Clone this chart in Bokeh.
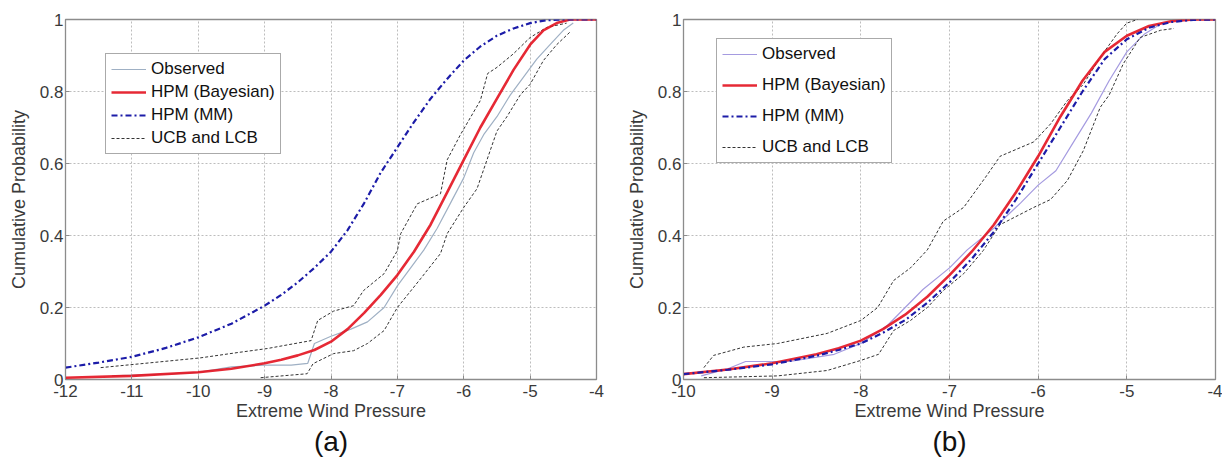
from bokeh.plotting import figure
from bokeh.layouts import row
from bokeh.models import Legend, LegendItem, Title, FixedTicker, Range1d
from bokeh.embed import file_html
from bokeh.resources import INLINE

# ---------------- Panel (a) data ----------------
a_obs_x = [-11.3, -10.5, -10.0, -9.5, -9.0, -8.6, -8.35, -8.25, -8.0, -7.7, -7.45, -7.2, -7.0, -6.8, -6.6, -6.4, -6.2, -6.0, -5.85, -5.7, -5.5, -5.3, -5.1, -4.9, -4.7, -4.5, -4.35]
a_obs_y = [0.01, 0.015, 0.02, 0.035, 0.04, 0.04, 0.045, 0.10, 0.12, 0.14, 0.16, 0.20, 0.26, 0.31, 0.36, 0.42, 0.49, 0.56, 0.63, 0.68, 0.73, 0.79, 0.84, 0.89, 0.93, 0.97, 0.99]

a_bay_x = [-12, -11, -10, -9.5, -9, -8.75, -8.5, -8.25, -8, -7.75, -7.5, -7.25, -7, -6.75, -6.5, -6.25, -6, -5.75, -5.5, -5.25, -5, -4.8, -4.6, -4.4, -4]
a_bay_y = [0.005, 0.01, 0.02, 0.03, 0.045, 0.055, 0.067, 0.082, 0.105, 0.14, 0.185, 0.235, 0.29, 0.355, 0.43, 0.52, 0.61, 0.70, 0.78, 0.86, 0.93, 0.97, 0.99, 1.0, 1.0]

a_mm_x = [-12, -11.5, -11, -10.5, -10, -9.5, -9, -8.75, -8.5, -8.25, -8, -7.75, -7.5, -7.25, -7, -6.75, -6.5, -6.25, -6, -5.75, -5.5, -5.25, -5, -4.75, -4.5, -4]
a_mm_y = [0.033, 0.047, 0.063, 0.087, 0.117, 0.155, 0.205, 0.235, 0.27, 0.31, 0.355, 0.415, 0.49, 0.575, 0.645, 0.715, 0.78, 0.835, 0.886, 0.925, 0.955, 0.975, 0.99, 0.998, 1.0, 1.0]

a_ucb_x = [-11.47, -10.8, -9.97, -9.4, -8.96, -8.3, -8.2, -7.96, -7.66, -7.51, -7.2, -7.0, -6.95, -6.7, -6.35, -6.25, -6.05, -5.75, -5.64, -5.5, -5.25, -5.0, -4.75, -4.45]
a_ucb_y = [0.033, 0.045, 0.06, 0.075, 0.086, 0.108, 0.164, 0.19, 0.205, 0.247, 0.294, 0.358, 0.405, 0.488, 0.516, 0.61, 0.68, 0.775, 0.85, 0.867, 0.905, 0.95, 0.978, 0.99]

a_lcb_x = [-9.06, -8.36, -8.27, -7.96, -7.66, -7.45, -7.2, -7.0, -6.65, -6.35, -6.25, -6.0, -5.8, -5.65, -5.5, -5.35, -5.15, -5.0, -4.8, -4.6, -4.4]
a_lcb_y = [0.005, 0.016, 0.044, 0.072, 0.08, 0.10, 0.136, 0.20, 0.28, 0.35, 0.405, 0.478, 0.53, 0.61, 0.69, 0.73, 0.79, 0.82, 0.886, 0.93, 0.965]

# ---------------- Panel (b) data ----------------
b_obs_x = [-9.8, -9.5, -9.3, -8.8, -8.3, -8.0, -7.7, -7.5, -7.3, -7.0, -6.8, -6.5, -6.2, -6.0, -5.8, -5.6, -5.4, -5.2, -5.0, -4.8, -4.6]
b_obs_y = [0.01, 0.03, 0.05, 0.05, 0.07, 0.10, 0.15, 0.20, 0.25, 0.31, 0.36, 0.42, 0.49, 0.54, 0.58, 0.66, 0.74, 0.83, 0.91, 0.96, 0.99]

b_bay_x = [-10, -9.5, -9, -8.5, -8.25, -8, -7.75, -7.5, -7.25, -7, -6.75, -6.5, -6.25, -6, -5.75, -5.5, -5.25, -5, -4.75, -4.5, -4.25, -4]
b_bay_y = [0.015, 0.028, 0.045, 0.07, 0.087, 0.108, 0.14, 0.18, 0.23, 0.29, 0.355, 0.43, 0.52, 0.62, 0.73, 0.83, 0.91, 0.955, 0.982, 0.995, 1.0, 1.0]

b_mm_x = [-10, -9.5, -9, -8.5, -8.25, -8, -7.75, -7.5, -7.25, -7, -6.75, -6.5, -6.25, -6, -5.75, -5.5, -5.25, -5, -4.75, -4.5, -4.25, -4]
b_mm_y = [0.015, 0.027, 0.042, 0.066, 0.082, 0.10, 0.13, 0.165, 0.213, 0.27, 0.335, 0.41, 0.50, 0.60, 0.70, 0.80, 0.89, 0.945, 0.977, 0.993, 0.999, 1.0]

b_ucb_x = [-9.77, -9.66, -9.32, -8.94, -8.38, -8.0, -7.81, -7.63, -7.44, -7.25, -7.07, -6.84, -6.57, -6.43, -6.05, -5.86, -5.67, -5.49, -5.3, -5.11, -5.0, -4.88]
b_ucb_y = [0.033, 0.067, 0.09, 0.10, 0.128, 0.164, 0.20, 0.275, 0.31, 0.36, 0.44, 0.478, 0.57, 0.62, 0.66, 0.71, 0.775, 0.82, 0.895, 0.96, 0.99, 1.0]

b_lcb_x = [-9.77, -8.94, -8.38, -8.0, -7.8, -7.63, -7.44, -7.25, -7.07, -6.84, -6.62, -6.43, -6.05, -5.86, -5.67, -5.49, -5.3, -5.2, -5.04, -4.85, -4.62, -4.47]
b_lcb_y = [0.005, 0.01, 0.025, 0.053, 0.07, 0.136, 0.164, 0.20, 0.247, 0.294, 0.358, 0.43, 0.478, 0.50, 0.553, 0.636, 0.756, 0.79, 0.877, 0.95, 0.97, 0.975]

a_xticks = [-12, -11, -10, -9, -8, -7, -6, -5, -4]
b_xticks = [-10, -9, -8, -7, -6, -5, -4]
yticks = [0, 0.2, 0.4, 0.6, 0.8, 1]
legend_labels = ["Observed", "HPM (Bayesian)", "HPM (MM)", "UCB and LCB"]

FONT = "Liberation Sans"
RED = "#e3121f"
BLUE = "#1c1ca8"
BAND = "#333333"


def make_panel(xr, xticks, obs, bay, mm, ucb, lcb, obs_color, tag, width, border_left,
               border_right, legend_loc, legend_spacing, tag_offset):
    p = figure(width=width, height=459,
               x_range=Range1d(*xr), y_range=Range1d(0, 1),
               output_backend="svg", toolbar_location=None,
               min_border_left=border_left, min_border_right=border_right,
               min_border_top=19, min_border_bottom=80)
    p.outline_line_color = "#8c8c8c"
    p.outline_line_width = 1.3
    for ax in (p.xaxis[0], p.yaxis[0]):
        ax.axis_line_color = "#8c8c8c"
        ax.major_tick_in = 4
        ax.major_tick_out = 0
        ax.minor_tick_line_color = None
        ax.major_tick_line_color = "#8c8c8c"
        ax.major_label_text_font = FONT
        ax.major_label_text_font_size = "17px"
        ax.major_label_text_color = "#3a3a3a"
        ax.axis_label_text_font = FONT
        ax.axis_label_text_font_size = "18px"
        ax.axis_label_text_font_style = "normal"
        ax.axis_label_text_color = "#3a3a3a"
    p.xaxis.ticker = FixedTicker(ticks=xticks)
    p.yaxis.ticker = FixedTicker(ticks=yticks)
    p.xaxis.major_label_overrides = {t: str(t) for t in xticks}
    p.yaxis.major_label_overrides = {0: "0", 0.2: "0.2", 0.4: "0.4", 0.6: "0.6", 0.8: "0.8", 1: "1"}
    p.xaxis.axis_label = "Extreme Wind Pressure"
    p.yaxis.axis_label = "Cumulative Probability"
    p.xaxis.major_label_standoff = 5
    p.xaxis.axis_label_standoff = 1
    p.yaxis.major_label_standoff = 2
    p.yaxis.axis_label_standoff = 8
    for g in (p.xgrid[0], p.ygrid[0]):
        g.grid_line_color = "#bdbdbd"
        g.grid_line_dash = "2 2"
        g.grid_line_width = 1

    r_obs = p.line(obs[0], obs[1], line_color=obs_color, line_width=1.2)
    r_ucb = p.line(ucb[0], ucb[1], line_color=BAND, line_width=1, line_dash="3 2")
    p.line(lcb[0], lcb[1], line_color=BAND, line_width=1, line_dash="3 2")
    r_bay = p.line(bay[0], bay[1], line_color=RED, line_width=2.6, line_alpha=0.9)
    r_mm = p.line(mm[0], mm[1], line_color=BLUE, line_width=2.2, line_dash="6 3 2 3")

    items = [LegendItem(label=legend_labels[0], renderers=[r_obs]),
             LegendItem(label=legend_labels[1], renderers=[r_bay]),
             LegendItem(label=legend_labels[2], renderers=[r_mm]),
             LegendItem(label=legend_labels[3], renderers=[r_ucb])]
    leg = Legend(items=items, location=legend_loc,
                 label_text_font=FONT, label_text_font_size="17px",
                 label_text_color="#111111",
                 glyph_width=35, glyph_height=20, label_height=20,
                 label_standoff=5, spacing=legend_spacing, padding=5, margin=0,
                 border_line_color="#555555", border_line_width=1,
                 background_fill_color="white", background_fill_alpha=1)
    p.add_layout(leg)

    p.add_layout(Title(text=tag, align="center", offset=tag_offset,
                       text_font=FONT, text_font_size="28px", text_color="#111111",
                       text_font_style="normal", standoff=0), "below")
    return p


pa = make_panel((-12, -4), a_xticks, (a_obs_x, a_obs_y), (a_bay_x, a_bay_y),
                (a_mm_x, a_mm_y), (a_ucb_x, a_ucb_y), (a_lcb_x, a_lcb_y),
                "#9fb0c4", "(a)", width=615, border_left=65, border_right=19,
                legend_loc=(40, 225), legend_spacing=3, tag_offset=15)
pb = make_panel((-10, -4), b_xticks, (b_obs_x, b_obs_y), (b_bay_x, b_bay_y),
                (b_mm_x, b_mm_y), (b_ucb_x, b_ucb_y), (b_lcb_x, b_lcb_y),
                "#a59be0", "(b)", width=607, border_left=68, border_right=7,
                legend_loc=(33, 216), legend_spacing=11, tag_offset=24)

layout = row(pa, pb)
open("out.html", "w").write(file_html(layout, INLINE))
